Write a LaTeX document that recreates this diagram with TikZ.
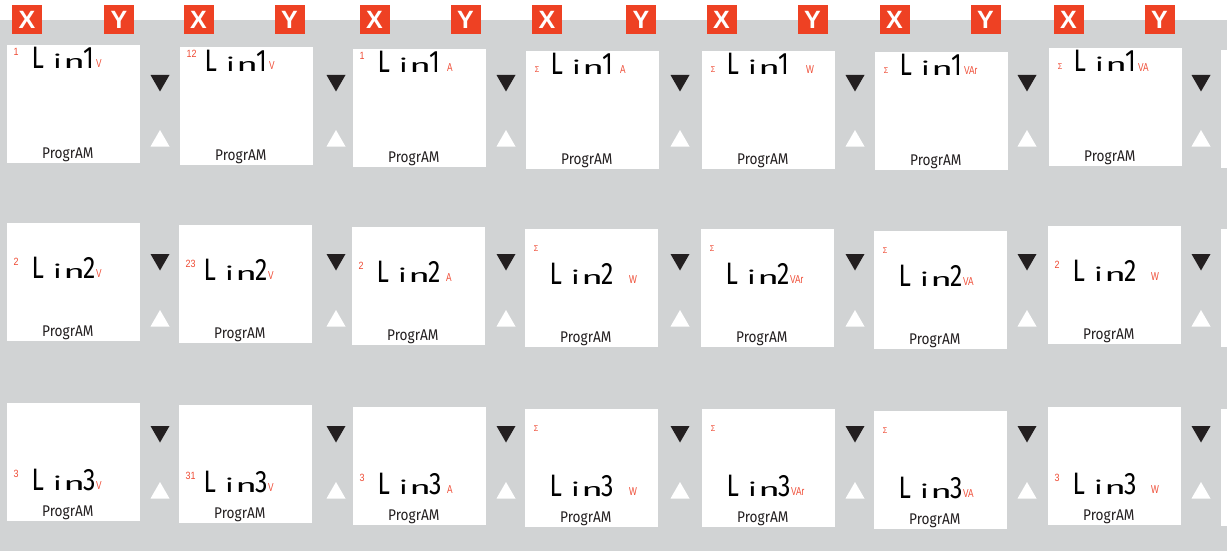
\documentclass[tikz,border=0pt]{standalone}
\usepackage{fontspec}
\setmainfont{Liberation Sans}
\newfontfamily\lcdfont{Fira Sans}

\definecolor{panelgrey}{HTML}{D1D3D4}
\definecolor{badgered}{HTML}{EE4123}
\definecolor{unitred}{HTML}{EF4A33}
\definecolor{inkblack}{HTML}{231F20}

\tikzset{
  panel/.style={fill=white, draw=none, minimum width=133pt, minimum height=118pt,
    inner sep=0pt, outer sep=0pt, anchor=north west},
  badge/.style={fill=badgered, text=white, minimum width=30pt, minimum height=29pt,
    inner sep=0pt, font=\bfseries\fontsize{25pt}{25pt}\selectfont},
  lcdmain/.style={inner sep=0pt, anchor=base west, text=black,
    font=\lcdfont\fontsize{31pt}{31pt}\selectfont},
  lcdsub/.style={inner sep=0pt, anchor=base west, text=inkblack,
    font=\lcdfont\fontsize{15.5pt}{15.5pt}\selectfont},
  unitlbl/.style={inner sep=0pt, anchor=base west, text=unitred,
    font=\fontsize{11.5pt}{11.5pt}\selectfont},
  prefixlbl/.style={inner sep=0pt, anchor=base west, text=unitred,
    font=\fontsize{10.5pt}{10.5pt}\selectfont},
}

% main reading of a display: narrow line letter, short "in", narrow line number
\newcommand{\lcdline}[1]{\scalebox{0.8}[1]{L}\kern9pt\scalebox{1}[0.6]{i}\kern1.5pt\scalebox{1.2}[0.6]{n}\kern-2pt\scalebox{0.8}[1]{#1}}

% one display: #1 name, #2/#3 top-left corner, #4 baseline of the main reading,
% #5 small indicator, #6 its baseline, #7 line number, #8 unit, #9 unit offset
\newcommand{\lcdpanel}[9]{%
  \node[panel] (#1) at (#2,#3) {};
  \node[prefixlbl] (#1-tag) at ({#2+6.5},{#3+#6}) {\scalebox{0.85}[1]{#5}};
  \node[lcdmain] (#1-txt) at ({#2+24.5},{#3+#4}) {\lcdline{#7}};
  \node[unitlbl] (#1-unit) at ({#2+#9},{#3+#4-1}) {\scalebox{0.72}[1]{#8}};
  \node[lcdsub] (#1-prog) at ({#2+35},{#3+113}) {\scalebox{0.88}[1]{ProgrAM}};
}

% down key (black) and up key (white) beside a display
\newcommand{\navkeys}[3]{%
  \fill[inkblack] ({#1-9.5},#2) -- ({#1+9.5},#2) -- (#1,{#2+16.5}) -- cycle;
  \fill[white] ({#1-9.5},{#3+16.5}) -- ({#1+9.5},{#3+16.5}) -- (#1,#3) -- cycle;
}

\newcommand{\sig}{{\fontsize{8.5pt}{8.5pt}\selectfont\kern2.6pt Σ}}

\begin{document}
\begin{tikzpicture}[x=1pt,y=-1pt]
\useasboundingbox (0,0) rectangle (1227,551);
\fill[white] (0,0) rectangle (1227,551);
\fill[panelgrey] (0,20) rectangle (1227,551);

% key badges
\foreach \bx [count=\i] in {27,198.5,374.5,547,721.5,894.5,1068.5}
  \node[badge] (keyx\i) at (\bx,19.5) {X};
\foreach \by [count=\i] in {119,289.5,465.5,641,812.5,985.5,1159.5}
  \node[badge] (keyy\i) at (\by,19.5) {Y};

% first row: line 1
\lcdpanel{p11}{7}{45}{24}{1}{11}{1}{V}{89}
\lcdpanel{p12}{180}{47}{24}{12}{11}{1}{V}{89}
\lcdpanel{p13}{353}{49}{24}{1}{11}{1}{A}{94}
\lcdpanel{p14}{526}{51}{24}{\sig}{22}{1}{A}{94}
\lcdpanel{p15}{702}{51}{24}{\sig}{22}{1}{W}{104}
\lcdpanel{p16}{875}{52}{24}{\sig}{22}{1}{VAr}{89}
\lcdpanel{p17}{1049}{48}{24}{\sig}{22}{1}{VA}{89}
\fill[white] (1221,50) rectangle (1227,168);

% second row: line 2
\lcdpanel{p21}{7}{223}{55.5}{2}{42.5}{2}{V}{89}
\lcdpanel{p22}{179}{225}{55.5}{23}{42.5}{2}{V}{89}
\lcdpanel{p23}{352}{227}{55.5}{2}{42.5}{2}{A}{94}
\lcdpanel{p24}{525}{229}{55.5}{\sig}{22}{2}{W}{104}
\lcdpanel{p25}{701}{229}{55.5}{\sig}{22}{2}{VAr}{89}
\lcdpanel{p26}{874}{231}{55.5}{\sig}{22}{2}{VA}{89}
\lcdpanel{p27}{1048}{226}{55.5}{2}{42.5}{2}{W}{103}
\fill[white] (1221,229) rectangle (1227,347);

% third row: line 3
\lcdpanel{p31}{7}{403}{87}{3}{74}{3}{V}{89}
\lcdpanel{p32}{179}{405}{87}{31}{74}{3}{V}{89}
\lcdpanel{p33}{353}{407}{87}{3}{74}{3}{A}{94}
\lcdpanel{p34}{525}{409}{87}{\sig}{22}{3}{W}{104}
\lcdpanel{p35}{702}{409}{87}{\sig}{22}{3}{VAr}{89}
\lcdpanel{p36}{874}{411}{87}{\sig}{22}{3}{VA}{89}
\lcdpanel{p37}{1048}{407}{87}{3}{74}{3}{W}{103}
\fill[white] (1221,409) rectangle (1227,526);

% navigation keys
\foreach \kx in {160,336,506,680,855,1027,1201} {
  \navkeys{\kx}{75}{130}
  \navkeys{\kx}{254}{310}
  \navkeys{\kx}{426}{482}
}
\end{tikzpicture}
\end{document}
